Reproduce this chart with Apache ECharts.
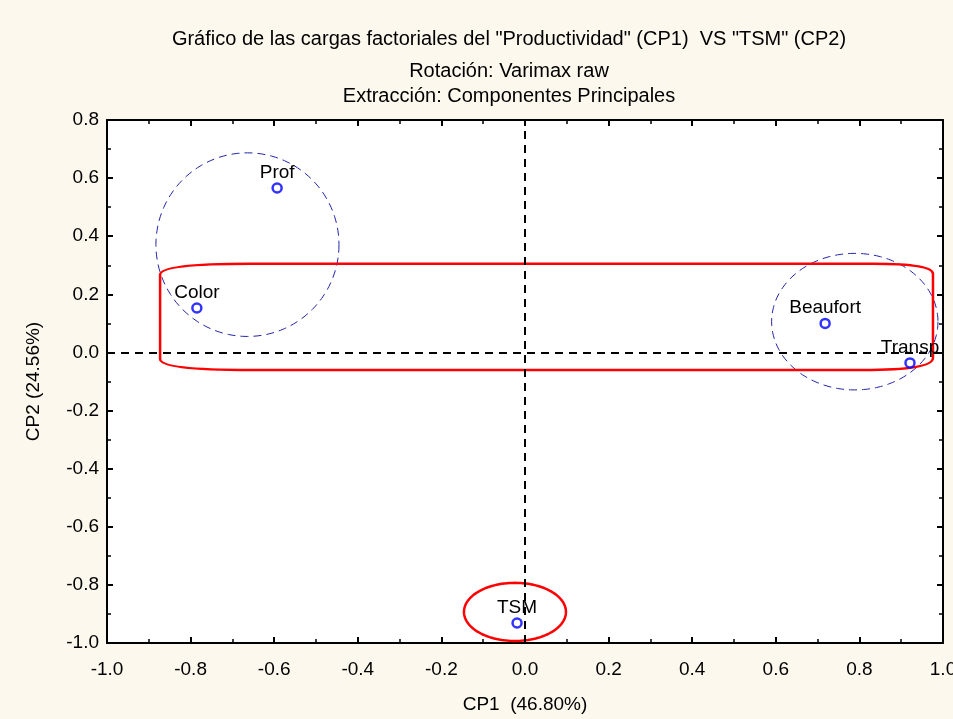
<!DOCTYPE html>
<html><head><meta charset="utf-8">
<script src="https://cdn.jsdelivr.net/npm/echarts@6/dist/echarts.min.js"></script>
<style>html,body{margin:0;padding:0;background:#fdf8ed;}#c{width:953px;height:719px;}</style>
</head><body><div id="c"></div>
<script>
// ---- data ----
const titleLines = ['Gráfico de las cargas factoriales del "Productividad" (CP1)  VS "TSM" (CP2)', 'Rotación: Varimax raw', 'Extracción: Componentes Principales'];
const xName = 'CP1  (46.80%)';
const yName = 'CP2 (24.56%)';
const varNames = ['Prof', 'Color', 'Beaufort', 'Transp', 'TSM'];
const cp1 = [-0.593, -0.785, 0.718, 0.921, -0.019];
const cp2 = [0.566, 0.153, 0.100, -0.036, -0.931];
// dashed blue ellipses: [cx, cy, rx, ry]
const blueEllipses = [[-0.664, 0.371, 0.219, 0.316], [0.789, 0.106, 0.199, 0.235]];
// red ellipse: [cx, cy, rx, ry]
const redEllipses = [[-0.024, -0.893, 0.122, 0.100]];
// red rounded region: [left, right, top, bottom]
const redBoxes = [[-0.873, 0.976, 0.305, -0.060]];

const FONT = 'Liberation Sans, Arial, sans-serif';
const chart = echarts.init(document.getElementById('c'), null, {renderer: 'canvas'});

function ellipsePoints(api, e) {
  const c = api.coord([e[0], e[1]]);
  const s = api.size([e[2], e[3]]);
  const pts = [];
  for (let i = 0; i < 120; i++) {
    const t = i / 120 * Math.PI * 2;
    pts.push([c[0] + s[0] * Math.cos(t), c[1] + s[1] * Math.sin(t)]);
  }
  return pts;
}

const axisCommon = {
  min: -1, max: 1, interval: 0.2,
  axisLine: {show: true, onZero: false, lineStyle: {color: '#000', width: 2}},
  axisTick: {show: true, inside: true, length: 6, lineStyle: {color: '#000', width: 2}},
  minorTick: {show: true, splitNumber: 2, length: 4, lineStyle: {color: '#000', width: 1.5}},
  splitLine: {show: false}
};

const option = {
  backgroundColor: '#fdf8ed',
  animation: false,
  title: titleLines.map((t, i) => ({
    text: t, left: 504, textAlign: 'center', top: [24, 56, 81][i],
    textStyle: {fontFamily: FONT, fontSize: 20, fontWeight: 'normal', color: '#000'}
  })),
  grid: {left: 107, right: 10, top: 120, bottom: 76, show: true, backgroundColor: '#fff', borderWidth: 0,
         outerBoundsMode: 'none', containLabel: false},
  xAxis: [
    Object.assign({}, axisCommon, {
      type: 'value', position: 'bottom', name: xName, nameLocation: 'middle', nameGap: 52,
      nameTextStyle: {fontFamily: FONT, fontSize: 19, color: '#000'},
      axisLabel: {fontFamily: FONT, fontSize: 19, color: '#000', margin: 17, formatter: v => v.toFixed(1)}
    }),
    Object.assign({}, axisCommon, {type: 'value', position: 'top', axisLabel: {show: false}})
  ],
  yAxis: [
    Object.assign({}, axisCommon, {
      type: 'value', min: -1, max: 0.8, position: 'left', name: yName, nameLocation: 'middle', nameGap: 64,
      nameTextStyle: {fontFamily: FONT, fontSize: 19, color: '#000'},
      axisLabel: {fontFamily: FONT, fontSize: 19, color: '#000', margin: 8, formatter: v => v.toFixed(1)}
    }),
    Object.assign({}, axisCommon, {type: 'value', min: -1, max: 0.8, position: 'right', axisLabel: {show: false}})
  ],
  series: [
    {
      type: 'custom', name: 'blueEllipses', clip: true, silent: true, z: 2,
      data: blueEllipses.map(e => [e[0], e[1]]),
      renderItem: (params, api) => ({
        type: 'polygon', shape: {points: ellipsePoints(api, blueEllipses[params.dataIndex])},
        style: {fill: 'none', stroke: '#2424a8', lineWidth: 1, lineDash: [8, 5]}
      })
    },
    {
      type: 'custom', name: 'redEllipses', clip: true, silent: true, z: 2,
      data: redEllipses.map(e => [e[0], e[1]]),
      renderItem: (params, api) => ({
        type: 'polygon', shape: {points: ellipsePoints(api, redEllipses[params.dataIndex])},
        style: {fill: 'none', stroke: '#ff0000', lineWidth: 2.5}
      })
    },
    {
      type: 'custom', name: 'redBoxes', clip: false, silent: true, z: 2,
      data: redBoxes.map(b => [b[0], b[2]]),
      renderItem: (params, api) => {
        const b = redBoxes[params.dataIndex];
        const tl = api.coord([b[0], b[2]]);
        const br = api.coord([b[1], b[3]]);
        const L = tl[0], T = tl[1], R = br[0], B = br[1];
        const d = 'M ' + L + ' ' + (T + 11) +
          ' Q ' + L + ' ' + T + ' ' + (L + 90) + ' ' + T +
          ' L ' + (R - 60) + ' ' + T +
          ' Q ' + R + ' ' + T + ' ' + R + ' ' + (T + 10) +
          ' L ' + R + ' ' + (B - 12) +
          ' Q ' + R + ' ' + B + ' ' + (R - 70) + ' ' + B +
          ' L ' + (L + 90) + ' ' + B +
          ' Q ' + L + ' ' + B + ' ' + L + ' ' + (B - 11) + ' Z';
        return {type: 'path', shape: {pathData: d}, style: {fill: 'none', stroke: '#ff0000', lineWidth: 2.5}};
      }
    },
    {
      type: 'scatter', name: 'loadings', z: 5,
      data: cp1.map((x, i) => [x, cp2[i]]),
      symbol: 'circle', symbolSize: 9,
      itemStyle: {color: '#fff', borderColor: '#0000ff', borderWidth: 2.5},
      markLine: {
        silent: true, symbol: 'none', label: {show: false},
        lineStyle: {color: '#000', width: 2, type: [8, 6]},
        data: [{xAxis: 0}, {yAxis: 0}]
      }
    },
    {
      type: 'custom', name: 'labels', clip: true, silent: true, z: 6,
      data: cp1.map((x, i) => [x, cp2[i]]),
      renderItem: (params, api) => {
        const p = api.coord([api.value(0), api.value(1)]);
        return {type: 'text', x: p[0], y: p[1] - 6,
          style: {text: varNames[params.dataIndex], fill: '#000', font: '19px ' + FONT, align: 'center', verticalAlign: 'bottom'}};
      }
    }
  ]
};
chart.setOption(option);
</script></body></html>
